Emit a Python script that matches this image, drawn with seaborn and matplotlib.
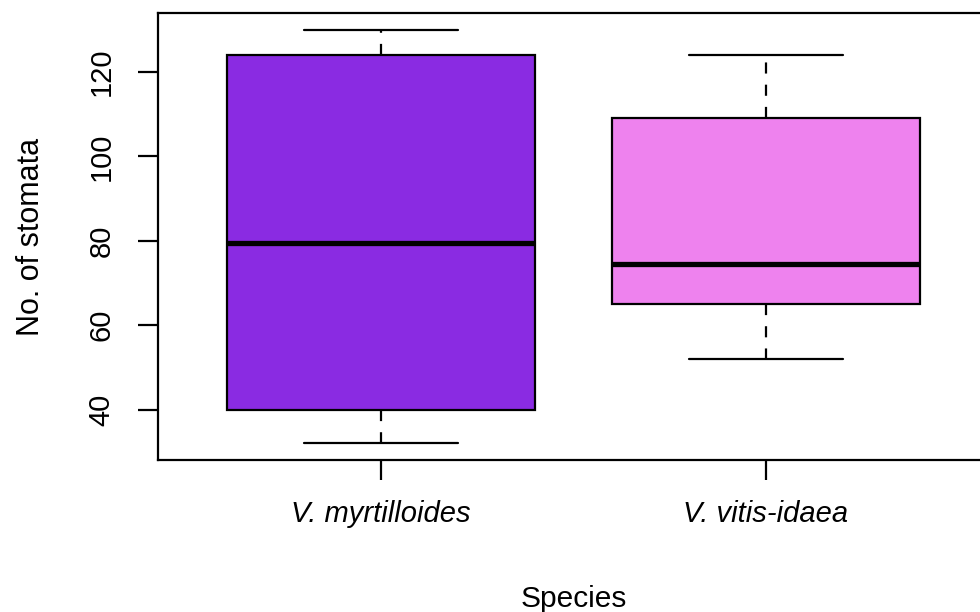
import matplotlib
matplotlib.use("Agg")
import matplotlib.pyplot as plt
import seaborn as sns
import pandas as pd

# Data (five-number summaries)
species = ["V. myrtilloides", "V. vitis-idaea"]
myrtilloides_values = [32, 40, 79.5, 124, 130]
vitis_idaea_values = [52, 65, 74.5, 109, 124]
box_colors = ["#8A2BE2", "#EE82EE"]
y_ticks = [40, 60, 80, 100, 120]

df = pd.DataFrame({
    "Species": [species[0]] * len(myrtilloides_values) + [species[1]] * len(vitis_idaea_values),
    "Stomata": myrtilloides_values + vitis_idaea_values,
})

sns.set_theme(style="white")
plt.rcParams["font.family"] = ["Liberation Sans", "DejaVu Sans"]

fig = plt.figure(figsize=(9.8, 6.12), dpi=100)
W, H = 980, 612
ax = fig.add_axes([157.7 / W, (H - 460) / H, (989.3 - 157.7) / W, (460 - 13.3) / H])

sns.boxplot(
    data=df, x="Species", y="Stomata", hue="Species", palette=box_colors,
    saturation=1, width=0.8, linecolor="black", linewidth=1.6, legend=False,
    whiskerprops=dict(linestyle=(0, (5, 5)), linewidth=1.6),
    capprops=dict(linestyle="-", linewidth=1.6),
    medianprops=dict(linewidth=3.8, color="black"),
    ax=ax,
)

ax.set_xlim(-0.58, 1.58)
ax.set_ylim(28.08, 133.92)
ax.set_yticks(y_ticks)
ax.set_yticklabels([str(v) for v in y_ticks], rotation=90, va="center")

for s in ax.spines.values():
    s.set_visible(True)
    s.set_color("black")
    s.set_linewidth(1.6)

ax.tick_params(axis="both", which="both", length=14.5, width=1.6, color="black",
               labelsize=21, labelcolor="black", left=True, bottom=True)
ax.tick_params(axis="y", pad=16)
ax.tick_params(axis="x", pad=14)
for t in ax.get_xticklabels():
    t.set_fontstyle("italic")

ax.set_xlabel("Species", fontsize=21.5, color="black", labelpad=41)
ax.set_ylabel("No. of stomata", fontsize=22, color="black", labelpad=30)

fig.savefig("out.png", dpi=100)
